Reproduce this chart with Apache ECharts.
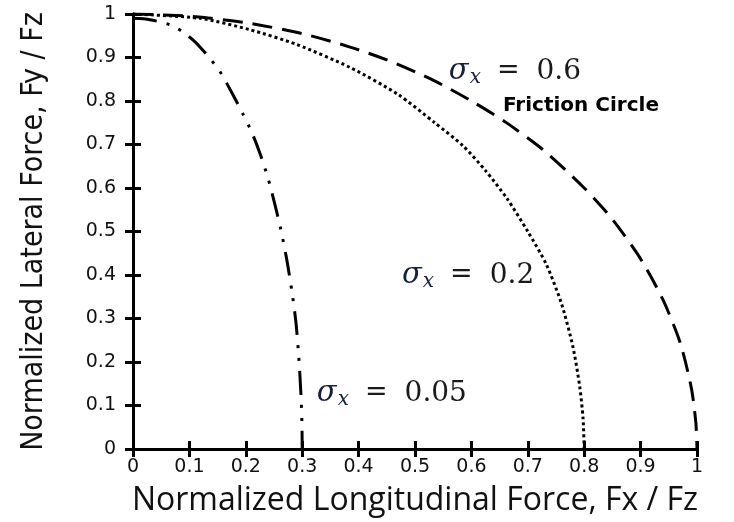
<!DOCTYPE html>
<html>
<head>
<meta charset="utf-8">
<script src="https://cdn.jsdelivr.net/npm/echarts@6/dist/echarts.min.js"></script>
<style>
  html, body { margin: 0; padding: 0; background: #fff; }
  #chart { width: 734px; height: 522px; }
</style>
</head>
<body>
<div id="chart"></div>
<script>
// Normalized friction envelopes (Fx/Fz, Fy/Fz) for three slip levels
const curveSigma005 = [
  [0, 0.99], [0.03, 0.987], [0.066, 0.975], [0.087, 0.96], [0.11, 0.936],
  [0.133, 0.903], [0.154, 0.868], [0.177, 0.815], [0.195, 0.77], [0.21, 0.73],
  [0.225, 0.68], [0.24, 0.62], [0.252, 0.56], [0.262, 0.505], [0.273, 0.433],
  [0.282, 0.36], [0.289, 0.29], [0.294, 0.21], [0.298, 0.12], [0.2995, 0.06],
  [0.3, 0]
];
const curveSigma02 = [
  [0, 1], [0.119, 0.99], [0.207, 0.964], [0.29, 0.93], [0.385, 0.877],
  [0.47, 0.815], [0.535, 0.75], [0.585, 0.697], [0.625, 0.64], [0.663, 0.576],
  [0.7, 0.5], [0.733, 0.424], [0.76, 0.333], [0.78, 0.235], [0.792, 0.144],
  [0.798, 0.07], [0.8, 0]
];
const curveSigma06 = [
  [0, 1], [0.1, 0.995], [0.2, 0.98], [0.3, 0.955], [0.385, 0.924],
  [0.461, 0.889], [0.532, 0.848], [0.6, 0.8], [0.66, 0.752], [0.727, 0.688],
  [0.8, 0.6], [0.85, 0.528], [0.9, 0.437], [0.94, 0.342], [0.97, 0.245],
  [0.99, 0.14], [0.998, 0.06], [1, 0]
];

// Annotation anchors (left edge, vertical middle) in data units
const annotations = [
  { value: [0.56, 0.868], kind: 'sigma', num: '0.6' },
  { value: [0.656, 0.79], kind: 'plain', text: 'Friction Circle' },
  { value: [0.477, 0.399], kind: 'sigma', num: '0.2' },
  { value: [0.326, 0.128], kind: 'sigma', num: '0.05' }
];

const xAxisTitle = 'Normalized Longitudinal Force, Fx / Fz';
const yAxisTitle = 'Normalized Lateral Force, Fy / Fz';

const chart = echarts.init(document.getElementById('chart'), null, { renderer: 'canvas' });

const frameLine = { show: true, lineStyle: { color: '#000', width: 3 } };
const frameTick = { show: true, inside: true, length: 8, lineStyle: { color: '#000', width: 3 } };
const fmt = v => String(Math.round(v * 10) / 10);

function curve(name, data, dash) {
  return {
    name, type: 'line', data, showSymbol: false, symbol: 'none', smooth: 0.25,
    lineStyle: { color: '#000', width: 3, type: dash, cap: 'butt' },
    silent: true, z: 3
  };
}

chart.setOption({
  animation: false,
  backgroundColor: '#fff',
  grid: { left: 133, right: 37, top: 14, bottom: 69 },
  xAxis: [
    {
      type: 'value', min: 0, max: 1, interval: 0.1, position: 'bottom',
      axisLine: frameLine, axisTick: frameTick, splitLine: { show: false },
      axisLabel: { margin: 9, formatter: fmt, fontFamily: 'DejaVu Sans', fontSize: 19, color: '#111' },
      name: xAxisTitle, nameLocation: 'middle', nameGap: 36,
      nameTextStyle: { fontFamily: 'Open Sans', fontSize: 32, color: '#111' }
    },
    {
      type: 'value', min: 0, max: 1, interval: 0.1, position: 'top',
      axisLine: frameLine, axisTick: frameTick, splitLine: { show: false },
      axisLabel: { show: false }
    }
  ],
  yAxis: [
    {
      type: 'value', min: 0, max: 1, interval: 0.1, position: 'left',
      axisLine: frameLine, axisTick: frameTick, splitLine: { show: false },
      axisLabel: { margin: 17, formatter: fmt, fontFamily: 'DejaVu Sans', fontSize: 19, color: '#111' },
      name: yAxisTitle, nameLocation: 'middle', nameGap: 84,
      nameTextStyle: { fontFamily: "'DejaVu Sans Condensed', 'Liberation Sans Narrow', sans-serif", fontSize: 30, color: '#111' }
    },
    {
      type: 'value', min: 0, max: 1, interval: 0.1, position: 'right',
      axisLine: frameLine, axisTick: frameTick, splitLine: { show: false },
      axisLabel: { show: false }
    }
  ],
  series: [
    curve('σx = 0.05', curveSigma005, [24, 10, 3, 10, 3, 10]),
    curve('σx = 0.2', curveSigma02, [3, 3]),
    curve('σx = 0.6', curveSigma06, [20, 10]),
    {
      type: 'scatter', symbolSize: 0, silent: true, z: 5,
      itemStyle: { opacity: 1 },
      data: annotations.map(a => ({ value: a.value, kind: a.kind, num: a.num, text: a.text })),
      label: {
        show: true, position: 'inside', align: 'left', verticalAlign: 'middle',
        formatter: p => p.data.kind === 'sigma'
          ? '{s|σ}{sub|x}{e|=}{t|' + p.data.num + '}'
          : '{b|' + p.data.text + '}',
        rich: {
          s: { fontFamily: 'DejaVu Serif', fontStyle: 'italic', fontSize: 29, color: '#15203d' },
          sub: { fontFamily: 'DejaVu Serif', fontStyle: 'italic', fontSize: 20, color: '#15203d', padding: [13, 0, 0, 1] },
          e: { fontFamily: 'DejaVu Serif', fontSize: 27, color: '#1a1a1a', padding: [0, 17, 0, 16] },
          t: { fontFamily: 'DejaVu Serif', fontSize: 28, color: '#1a1a1a' },
          b: { fontFamily: 'DejaVu Sans', fontWeight: 'bold', fontSize: 20, color: '#000' }
        }
      }
    }
  ]
});
</script>
</body>
</html>
